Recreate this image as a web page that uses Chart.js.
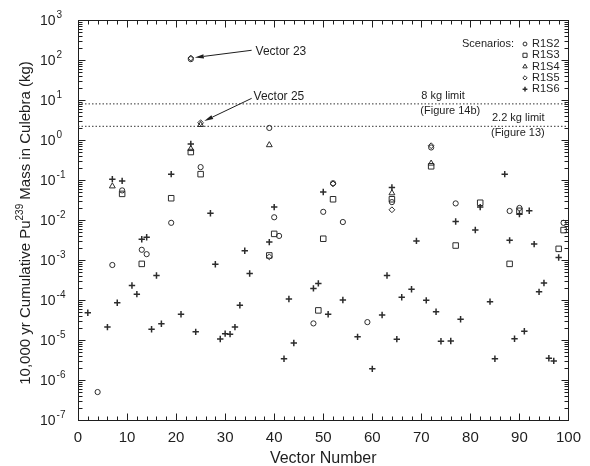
<!DOCTYPE html>
<html>
<head>
<meta charset="utf-8">
<script src="https://cdn.jsdelivr.net/npm/chart.js@4.4.1/dist/chart.umd.min.js"></script>
<style>
  html, body { margin: 0; padding: 0; background: #fff; }
  #wrap { width: 590px; height: 466px; }
</style>
</head>
<body>
<div id="wrap"><canvas id="c" width="590" height="466"></canvas></div>
<script>
// Cumulative Pu-239 mass reaching the Culebra, by vector and scenario (kg)
const r1s2Vectors = [4, 7, 9, 13, 14, 19, 23, 25, 39, 40, 41, 48, 50, 52, 54, 59, 64, 72, 77, 88, 90, 99];
const r1s2Mass    = [5e-7, 7.5e-4, 0.055, 0.0018, 0.0014, 0.0085, 105, 0.21, 2.0, 0.0117, 0.004, 2.6e-5, 0.016, 0.083, 0.0089, 2.8e-5, 0.028, 0.65, 0.026, 0.0168, 0.02, 0.0085];

const r1s3Vectors = [9, 13, 19, 23, 25, 39, 40, 49, 50, 52, 64, 72, 77, 82, 88, 90, 98, 99];
const r1s3Mass    = [0.045, 8e-4, 0.035, 0.5, 0.14, 0.0013, 0.0045, 5.5e-5, 0.0034, 0.033, 0.033, 0.22, 0.0023, 0.027, 8e-4, 0.017, 0.0019, 0.0056];

const r1s4Vectors = [7, 23, 25, 39, 64, 72];
const r1s4Mass    = [0.07, 0.6, 2.4, 0.75, 0.047, 0.26];

const r1s5Vectors = [23, 25, 39, 52, 64, 72];
const r1s5Mass    = [112, 2.7, 0.0012, 0.08, 0.018, 0.72];

const r1s6Vectors = [2, 6, 7, 8, 9, 11, 12, 13, 14, 15, 16, 17, 19, 21, 23, 24, 27, 28, 29, 30,
                     31, 32, 33, 34, 35, 39, 40, 42, 43, 44, 48, 49, 50, 51, 54, 57, 60, 62, 63, 64,
                     65, 66, 68, 69, 71, 73, 74, 76, 77, 78, 81, 82, 84, 85, 87, 88, 89, 90, 91, 92,
                     93, 94, 95, 96, 97, 98];
const r1s6Mass    = [4.8e-5, 2.1e-5, 0.105, 8.5e-5, 0.095, 2.3e-4, 1.4e-4, 0.0033, 0.0037, 1.85e-5,
                     4.1e-4, 2.55e-5, 0.14, 4.4e-5, 0.8, 1.6e-5, 0.0147, 7.8e-4, 1.06e-5, 1.44e-5,
                     1.4e-5, 2.1e-5, 7.4e-5, 0.0017, 4.6e-4, 0.0028, 0.021, 3.4e-6, 1.06e-4, 8.4e-6,
                     1.95e-4, 2.6e-4, 0.05, 4.4e-5, 1.0e-4, 1.2e-5, 1.9e-6, 4.2e-5, 4.1e-4, 0.065,
                     1.05e-5, 1.17e-4, 1.85e-4, 0.003, 9.8e-5, 5.1e-5, 9.3e-6, 9.4e-6, 0.0092, 3.3e-5,
                     0.0056, 0.021, 9.1e-5, 3.4e-6, 0.14, 0.0031, 1.07e-5, 0.014, 1.65e-5, 0.017,
                     0.0025, 1.6e-4, 2.65e-4, 3.5e-6, 3.0e-6, 0.00115];

const scenarioNames = ['R1S2', 'R1S3', 'R1S4', 'R1S5', 'R1S6'];

// Release limits drawn as dotted reference lines
const limitValues = [8, 2.2];
const limitLabels = [['8 kg limit', '(Figure 14b)'], ['2.2 kg limit', '(Figure 13)']];

// Axis ticks
const yTickExponents = [3, 2, 1, 0, -1, -2, -3, -4, -5, -6, -7];
const xTickLabels = [0, 10, 20, 30, 40, 50, 60, 70, 80, 90, 100];

// Callouts for the two highest-release vectors
const callouts = [
  { text: 'Vector 23', vector: 23, value: 112 },
  { text: 'Vector 25', vector: 25, value: 2.7 }
];

const FONT = '"Liberation Sans", Arial, Helvetica, sans-serif';
const INK = '#1e1e1e';
const MARK = '#2c2c2c';

const markerStyles = [
  { pointStyle: 'circle',   radius: 2.6, borderWidth: 1 },
  { pointStyle: 'rect',     radius: 3.9, borderWidth: 1 },
  { pointStyle: 'triangle', radius: 3.4, borderWidth: 1 },
  { pointStyle: 'rectRot',  radius: 2.9, borderWidth: 1 },
  { pointStyle: 'cross',    radius: 3.2, borderWidth: 1.5 }
];

function toPoints(xs, ys) {
  return xs.map((v, i) => ({ x: v, y: ys[i] }));
}

const seriesData = [
  toPoints(r1s2Vectors, r1s2Mass),
  toPoints(r1s3Vectors, r1s3Mass),
  toPoints(r1s4Vectors, r1s4Mass),
  toPoints(r1s5Vectors, r1s5Mass),
  toPoints(r1s6Vectors, r1s6Mass)
];

const datasets = seriesData.map((pts, i) => ({
  type: 'scatter',
  label: scenarioNames[i],
  data: pts,
  pointStyle: markerStyles[i].pointStyle,
  pointRadius: markerStyles[i].radius,
  pointBorderWidth: markerStyles[i].borderWidth,
  pointBorderColor: MARK,
  pointBackgroundColor: 'rgba(0,0,0,0)',
  showLine: false
}));

limitValues.forEach((v, i) => {
  datasets.push({
    type: 'line',
    label: limitLabels[i][0],
    data: [{ x: 0, y: v }, { x: 100, y: v }],
    borderColor: '#333',
    borderWidth: 1,
    borderDash: [1.5, 2],
    pointRadius: 0,
    fill: false
  });
});

function drawArrow(ctx, x0, y0, x1, y1) {
  const ang = Math.atan2(y1 - y0, x1 - x0);
  const headLen = 9, headHalf = 2.2;
  const bx = x1 - Math.cos(ang) * headLen;
  const by = y1 - Math.sin(ang) * headLen;
  ctx.beginPath();
  ctx.moveTo(x0, y0);
  ctx.lineTo(bx, by);
  ctx.stroke();
  ctx.beginPath();
  ctx.moveTo(x1, y1);
  ctx.lineTo(bx - Math.sin(ang) * headHalf, by + Math.cos(ang) * headHalf);
  ctx.lineTo(bx + Math.sin(ang) * headHalf, by - Math.cos(ang) * headHalf);
  ctx.closePath();
  ctx.fill();
}

// Boxed frame with inward ticks on all four sides
const framePlugin = {
  id: 'frame',
  beforeDatasetsDraw(chart) {
    const { ctx, chartArea: a } = chart;
    const xs = chart.scales.x, ys = chart.scales.y;
    ctx.save();
    ctx.strokeStyle = INK;
    ctx.lineWidth = 1;
    const L = Math.round(a.left) + 0.5, R = Math.round(a.right) + 0.5;
    const T = Math.round(a.top) + 0.5, B = Math.round(a.bottom) + 0.5;
    ctx.strokeRect(L, T, R - L, B - T);
    ctx.beginPath();
    for (let v = 0; v <= 100; v += 2) {
      const px = Math.round(xs.getPixelForValue(v)) + 0.5;
      const len = v % 10 === 0 ? 7 : 4;
      ctx.moveTo(px, B); ctx.lineTo(px, B - len);
      ctx.moveTo(px, T); ctx.lineTo(px, T + len);
    }
    for (let e = -7; e <= 3; e++) {
      const py = Math.round(ys.getPixelForValue(Math.pow(10, e))) + 0.5;
      ctx.moveTo(L, py); ctx.lineTo(L + 7, py);
      ctx.moveTo(R, py); ctx.lineTo(R - 7, py);
      if (e < 3) {
        for (let m = 2; m <= 9; m++) {
          const pm = Math.round(ys.getPixelForValue(m * Math.pow(10, e))) + 0.5;
          ctx.moveTo(L, pm); ctx.lineTo(L + 4, pm);
          ctx.moveTo(R, pm); ctx.lineTo(R - 4, pm);
        }
      }
    }
    ctx.stroke();
    ctx.restore();
  },
  afterDraw(chart) {
    const { ctx, chartArea: a } = chart;
    const xs = chart.scales.x, ys = chart.scales.y;
    ctx.save();
    ctx.fillStyle = INK;
    ctx.strokeStyle = INK;

    // y tick labels: 10 with raised exponent
    ctx.textAlign = 'left';
    ctx.textBaseline = 'middle';
    yTickExponents.forEach(e => {
      const py = ys.getPixelForValue(Math.pow(10, e));
      ctx.font = '14px ' + FONT;
      ctx.fillText('10', 40, py + 1);
      const w = ctx.measureText('10').width;
      ctx.font = '10px ' + FONT;
      ctx.fillText(String(e), 40 + w + 1, py - 5);
    });

    // y axis title with superscript isotope number
    const parts = [['10,000 yr Cumulative Pu', 15, 0], ['239', 10, -6], [' Mass in Culebra (kg)', 15, 0]];
    ctx.save();
    ctx.translate(25, (a.top + a.bottom) / 2 + 3);
    ctx.rotate(-Math.PI / 2);
    let total = 0;
    parts.forEach(p => { ctx.font = p[1] + 'px ' + FONT; total += ctx.measureText(p[0]).width; });
    let cx = -total / 2;
    ctx.textBaseline = 'middle';
    parts.forEach(p => {
      ctx.font = p[1] + 'px ' + FONT;
      ctx.fillText(p[0], cx, p[2] + 1);
      cx += ctx.measureText(p[0]).width;
    });
    ctx.restore();

    // x axis title
    ctx.font = '16px ' + FONT;
    ctx.textAlign = 'center';
    ctx.textBaseline = 'middle';
    ctx.fillText('Vector Number', (a.left + a.right) / 2, 459);

    // limit labels
    ctx.font = '11px ' + FONT;
    ctx.textAlign = 'left';
    const lx = [70, 84.4];
    limitValues.forEach((v, i) => {
      const py = ys.getPixelForValue(v);
      const px = xs.getPixelForValue(lx[i]);
      ctx.fillText(limitLabels[i][0], px, py - 8);
      ctx.fillText(limitLabels[i][1], px - 1, py + 7);
    });

    // callouts
    ctx.font = '12px ' + FONT;
    ctx.lineWidth = 1;
    const textPos = [[36.2, 165], [35.8, 12]];
    const tails = [[35.4, 175], [35.4, 11]];
    callouts.forEach((c, i) => {
      const tx = xs.getPixelForValue(textPos[i][0]);
      const ty = ys.getPixelForValue(textPos[i][1]);
      ctx.fillText(c.text, tx, ty);
      const mx = xs.getPixelForValue(c.vector);
      const my = ys.getPixelForValue(c.value);
      const sx = xs.getPixelForValue(tails[i][0]);
      const sy = ys.getPixelForValue(tails[i][1]);
      const ang = Math.atan2(my - sy, mx - sx);
      drawArrow(ctx, sx, sy, mx - Math.cos(ang) * 4, my - Math.sin(ang) * 4);
    });

    // legend
    ctx.font = '11px ' + FONT;
    ctx.textAlign = 'right';
    ctx.fillText('Scenarios:', 514, 44);
    ctx.textAlign = 'left';
    scenarioNames.forEach((name, i) => {
      const rowY = 44 + i * 11.3;
      ctx.save();
      ctx.fillStyle = 'rgba(0,0,0,0)';
      ctx.strokeStyle = MARK;
      ctx.lineWidth = markerStyles[i].borderWidth;
      Chart.helpers.drawPoint(ctx, {
        pointStyle: markerStyles[i].pointStyle,
        radius: markerStyles[i].radius * 0.75,
        rotation: 0,
        borderWidth: markerStyles[i].borderWidth
      }, 525, rowY);
      ctx.restore();
      ctx.fillText(name, 532, rowY);
    });
    ctx.restore();
  }
};

new Chart(document.getElementById('c'), {
  data: { datasets },
  options: {
    responsive: false,
    devicePixelRatio: 1,
    animation: false,
    layout: { padding: { top: 20, right: 12, left: 0, bottom: 0 } },
    plugins: {
      legend: { display: false },
      tooltip: { enabled: false }
    },
    scales: {
      x: {
        type: 'linear',
        position: 'bottom',
        min: 0,
        max: 100,
        grid: { display: false, drawTicks: false },
        border: { display: false },
        afterBuildTicks: s => { s.ticks = xTickLabels.map(v => ({ value: v })); },
        afterFit: s => { s.height = 46; },
        ticks: {
          autoSkip: false,
          maxRotation: 0,
          padding: 9,
          color: INK,
          font: { family: FONT, size: 15 }
        }
      },
      y: {
        type: 'logarithmic',
        position: 'left',
        min: 1e-7,
        max: 1e3,
        grid: { display: false, drawTicks: false },
        border: { display: false },
        afterFit: s => { s.width = 78; },
        ticks: { display: false }
      }
    }
  },
  plugins: [framePlugin]
});
</script>
</body>
</html>
